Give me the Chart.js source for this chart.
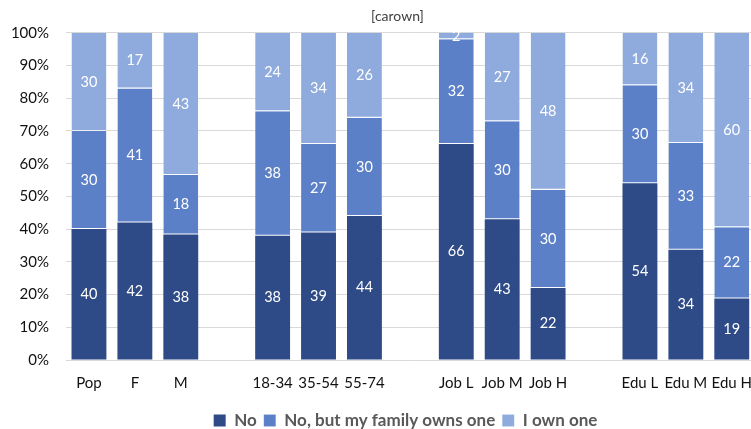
<!DOCTYPE html>
<html>
<head>
<meta charset="utf-8">
<script src="https://cdn.jsdelivr.net/npm/chart.js@4/dist/chart.umd.min.js"></script>
<style>
  html, body { margin: 0; padding: 0; background: #fff; overflow: hidden; }
  #wrap { width: 751px; height: 429px; overflow: hidden; }
</style>
</head>
<body>
<div id="wrap"><canvas id="c" width="766" height="439"></canvas></div>
<script>
// Car ownership by group; empty labels are spacer columns between groups
const categories = ['Pop', 'F', 'M', '', '18-34', '35-54', '55-74', '', 'Job L', 'Job M', 'Job H', '', 'Edu L', 'Edu M', 'Edu H'];
const seriesNames = ['No', 'No, but my family owns one', 'I own one'];
const noCar      = [40, 42, 38, null, 38, 39, 44, null, 66, 43, 22, null, 54, 34, 19];
const familyCar  = [30, 41, 18, null, 38, 27, 30, null, 32, 30, 30, null, 30, 33, 22];
const ownCar     = [30, 17, 43, null, 24, 34, 26, null, 2, 27, 48, null, 16, 34, 60];
const yTicks     = [0, 10, 20, 30, 40, 50, 60, 70, 80, 90, 100];
const colors     = ['#2E4B87', '#5B80C8', '#8FABDD'];

const raw = [noCar, familyCar, ownCar];
// 100% stacked: each column is scaled to its own total
const totals = categories.map((_, i) => raw.reduce((s, arr) => s + (arr[i] || 0), 0));
const shares = raw.map(arr => arr.map((v, i) => v == null ? null : v / totals[i] * 100));

const FONT = 'Lato, "Open Sans", sans-serif';

const valueLabels = {
  id: 'valueLabels',
  afterDatasetsDraw(chart) {
    const ctx = chart.ctx;
    ctx.save();
    ctx.fillStyle = '#ffffff';
    ctx.font = '14.5px ' + FONT;
    ctx.textAlign = 'center';
    ctx.textBaseline = 'middle';
    chart.data.datasets.forEach((ds, di) => {
      const meta = chart.getDatasetMeta(di);
      meta.data.forEach((bar, i) => {
        const v = raw[di][i];
        if (v == null) return;
        const mid = (bar.y + bar.base) / 2;
        ctx.fillText(String(v), bar.x, mid);
      });
    });
    ctx.restore();
  }
};

// nudge the title and legend to sit over the plot area rather than the canvas
const blockShift = {
  id: 'blockShift',
  afterLayout(chart) {
    if (chart.titleBlock) { chart.titleBlock.left += 15; chart.titleBlock.right += 15; }
    if (chart.legend) { chart.legend.left += 23; chart.legend.right += 23; }
  }
};

new Chart(document.getElementById('c'), {
  type: 'bar',
  data: {
    labels: categories,
    datasets: seriesNames.map((name, k) => ({
      label: name,
      data: shares[k],
      backgroundColor: colors[k],
      borderColor: 'rgba(255,255,255,0.55)',
      borderWidth: k === 0 ? 0 : { top: 0, bottom: 1, left: 0, right: 0 },
      borderSkipped: false,
      categoryPercentage: 1,
      barPercentage: 0.76
    }))
  },
  options: {
    responsive: false,
    devicePixelRatio: 1,
    animation: false,
    layout: { padding: { left: 0, right: 1, top: 4, bottom: 0 } },
    plugins: {
      title: {
        display: true,
        text: '[carown]',
        color: '#404040',
        font: { family: FONT, size: 14, weight: 'normal' },
        padding: { top: 4, bottom: 8 }
      },
      legend: {
        position: 'bottom',
        labels: {
          color: '#595959',
          font: { family: FONT, size: 17, weight: 'bold' },
          boxWidth: 12,
          boxHeight: 12,
          padding: 7
        }
      },
      tooltip: { enabled: false }
    },
    scales: {
      x: {
        stacked: true,
        afterFit(s) { s.height = 45; },
        grid: { display: false, drawTicks: false },
        border: { display: false },
        ticks: {
          color: '#111111',
          font: { family: FONT, size: 15 },
          padding: 14,
          autoSkip: false,
          maxRotation: 0
        }
      },
      y: {
        stacked: true,
        min: 0,
        max: 100,
        afterFit(s) { s.width = 66; },
        afterBuildTicks(s) { s.ticks = yTicks.map(v => ({ value: v })); },
        grid: { color: '#D9D9D9', drawTicks: false, lineWidth: 1 },
        border: { display: false },
        ticks: {
          color: '#111111',
          font: { family: FONT, size: 15 },
          padding: 17,
          callback: v => v + '%'
        }
      }
    }
  },
  plugins: [valueLabels, blockShift]
});
</script>
</body>
</html>
